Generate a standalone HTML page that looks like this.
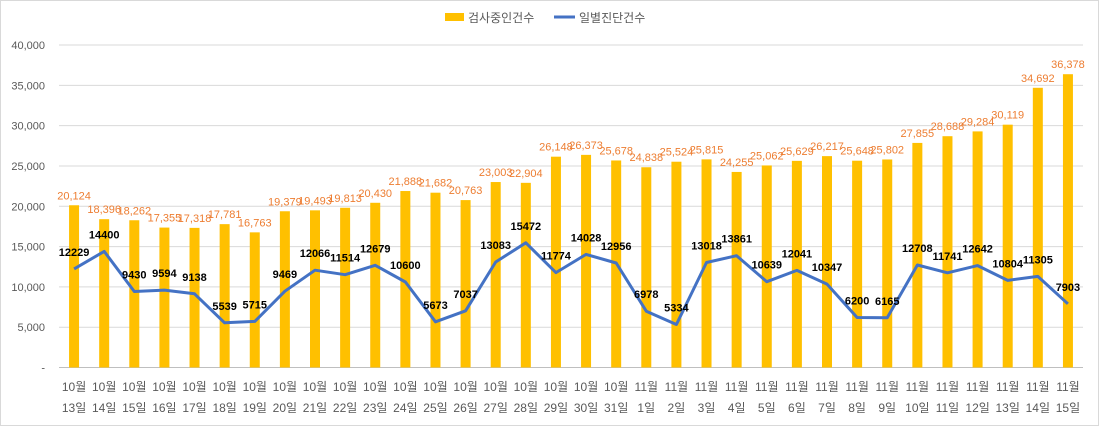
<!DOCTYPE html>
<html><head><meta charset="utf-8"><style>
body{margin:0;background:#fff}
svg{display:block;font-family:"Liberation Sans","Noto Sans CJK KR",sans-serif}
</style></head><body>
<svg id="c" width="1099" height="426">
<rect x="0.5" y="0.5" width="1098" height="425" fill="#fff" stroke="#d9d9d9"/>
<g id="legend">
<rect x="445" y="13" width="19" height="8" fill="#ffc000"/>
<text x="468" y="22" font-size="12" fill="#595959">검사중인건수</text>
<line x1="554" y1="17" x2="575" y2="17" stroke="#4472c4" stroke-width="3"/>
<text x="579" y="22" font-size="12" fill="#595959">일별진단건수</text>
</g>
<g id="grid"></g><g id="bars"></g><g id="line"></g><g id="labels"></g><g id="xaxis"></g>
</svg>
<script>
const months=["10","10","10","10","10","10","10","10","10","10","10","10","10","10","10","10","10","10","10","11","11","11","11","11","11","11","11","11","11","11","11","11","11","11"];
const days=[13,14,15,16,17,18,19,20,21,22,23,24,25,26,27,28,29,30,31,1,2,3,4,5,6,7,8,9,10,11,12,13,14,15];
const tested=[20124,18396,18262,17355,17318,17781,16763,19379,19493,19813,20430,21888,21682,20763,23003,22904,26148,26373,25678,24838,25524,25815,24255,25062,25629,26217,25648,25802,27855,28688,29284,30119,34692,36378];
const daily=[12229,14400,9430,9594,9138,5539,5715,9469,12066,11514,12679,10600,5673,7037,13083,15472,11774,14028,12956,6978,5334,13018,13861,10639,12041,10347,6200,6165,12708,11741,12642,10804,11305,7903];
const yTicks=[0,5000,10000,15000,20000,25000,30000,35000,40000];
const NS="http://www.w3.org/2000/svg";
const N=tested.length, x0=59, x1=1083, yTop=45, yBot=367.5, yMax=40000;
const bw=(x1-x0)/N;
const X=i=>x0+bw*(i+0.5);
const Y=v=>yBot-(v/yMax)*(yBot-yTop);
function mk(tag,attrs,parent,txt){const e=document.createElementNS(NS,tag);for(const k in attrs)e.setAttribute(k,attrs[k]);if(txt!==undefined)e.textContent=txt;document.getElementById(parent).appendChild(e);return e;}
yTicks.forEach(t=>{
  const l=mk('line',{x1:x0,x2:x1,y1:Y(t),y2:Y(t),stroke:t===0?'#bfbfbf':'#d9d9d9','stroke-width':1},'grid');
  
  
  const tx=mk('text',{x:45,y:Y(t)+4,'font-size':11,fill:'#595959','text-anchor':'end'},'grid',t===0?'-':t.toLocaleString('en-US'));
  
  
});
for(let i=0;i<N;i++){
  const b=mk('rect',{x:X(i)-5,y:Y(tested[i]),width:10,height:yBot-Y(tested[i]),fill:'#ffc000'},'bars');
  
  
  const bl=mk('text',{x:X(i),y:Y(tested[i])-6,'font-size':11,fill:'#ed7d31','text-anchor':'middle'},'labels',tested[i].toLocaleString('en-US'));
  
  
  const ll=mk('text',{x:X(i),y:Y(daily[i])-13,'font-size':11,fill:'#000','text-anchor':'middle','font-weight':'bold'},'labels',String(daily[i]));
  
  
  const m1=mk('text',{x:X(i),y:391,'font-size':12,fill:'#595959','text-anchor':'middle'},'xaxis',months[i]+'월');
  
  
  const d1=mk('text',{x:X(i),y:412,'font-size':12,fill:'#595959','text-anchor':'middle'},'xaxis',days[i]+'일');
  
  
}
const pts=[];for(let i=0;i<N;i++)pts.push(X(i).toFixed(1)+','+Y(daily[i]).toFixed(1));
const pl=mk('polyline',{points:pts.join(' '),fill:'none',stroke:'#4472c4','stroke-width':3,'stroke-linejoin':'round'},'line');


</script>
</body></html>
